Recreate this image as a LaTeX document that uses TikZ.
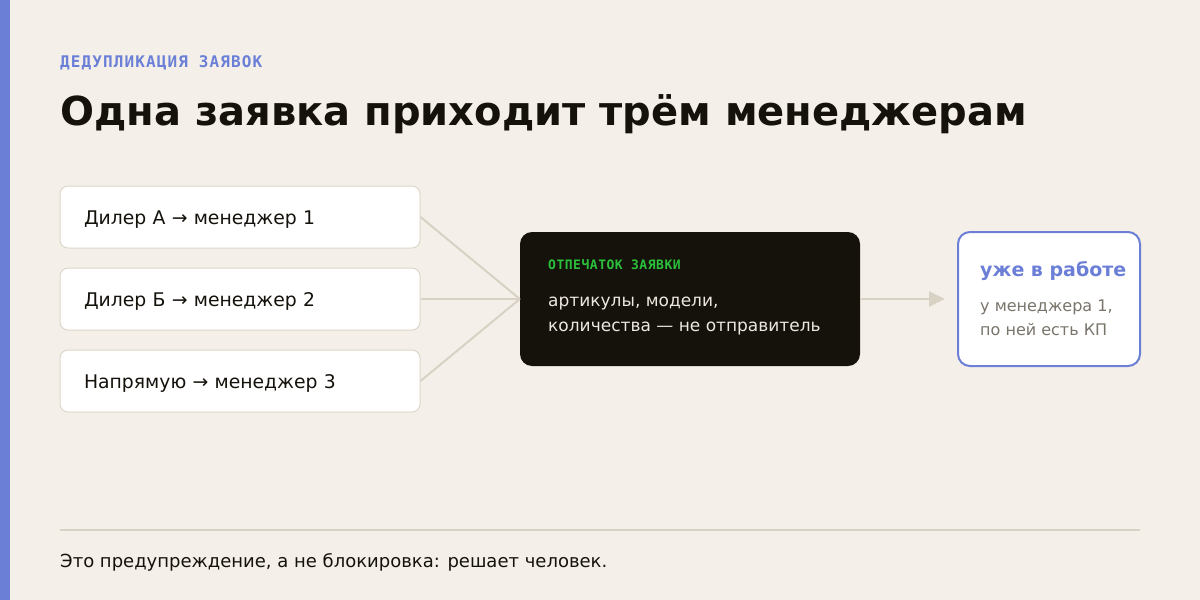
\documentclass[tikz,border=0pt]{standalone}
\usepackage{fontspec}
\setmainfont{DejaVu Sans}
\newfontfamily\tagfont{DejaVu Sans Mono}[LetterSpace=7]
\newfontfamily\smalltagfont{DejaVu Sans Mono}[LetterSpace=4]
\usetikzlibrary{arrows.meta,positioning}
\definecolor{paper}{HTML}{F4F0E9}
\definecolor{accent}{HTML}{6B7FD7}
\definecolor{ink}{HTML}{15120C}
\definecolor{rule}{HTML}{D8D2C4}
\definecolor{edge}{HTML}{DDD7CA}
\definecolor{signal}{HTML}{2BC03A}
\definecolor{pale}{HTML}{EDE8DF}
\definecolor{muted}{HTML}{7A756B}
\tikzset{
	srcbox/.style={draw=edge, line width=1pt, fill=white, rounded corners=8pt, minimum height=62pt, text width=312pt, inner xsep=24pt, align=left, text height=14pt, text depth=0pt, font=\fontsize{18.8}{22}\selectfont, text=ink},
	link/.style={draw=rule, line width=2pt},
	txt/.style={anchor=base west, inner sep=0pt}
}
\begin{document}
\begin{tikzpicture}[x=1pt, y=-1pt]
	\useasboundingbox (0,0) rectangle (1200,600);
	\fill[paper] (0,0) rectangle (1200,600);
	\fill[accent] (0,0) rectangle (10,600);
	\node[txt, text=accent, font=\tagfont\bfseries\fontsize{16}{20}\selectfont] (tag) at (60,67) {ДЕДУПЛИКАЦИЯ ЗАЯВОК};
	\node[txt, text=ink, font=\bfseries\fontsize{40}{48}\selectfont] (title) at (60,125) {Одна заявка приходит трём менеджерам};
	\node[srcbox] (srcA) at (240,217) {Дилер А → менеджер 1};
	\node[srcbox] (srcB) at (240,299) {Дилер Б → менеджер 2};
	\node[srcbox] (srcC) at (240,381) {Напрямую → менеджер 3};
	\node[fill=ink, rounded corners=12pt, minimum width=340pt, minimum height=134pt, inner sep=0pt] (print) at (690,299) {};
	\node[txt, text=signal, font=\smalltagfont\bfseries\fontsize{13}{16}\selectfont] (printtag) at (548,269) {ОТПЕЧАТОК ЗАЯВКИ};
	\node[txt, text=pale, font=\fontsize{17}{25}\selectfont, align=left] (printtxt) at (548,331) {артикулы, модели,\\количества — не отправитель};
	\node[draw=accent, line width=2pt, fill=white, rounded corners=12pt, minimum width=182pt, minimum height=134pt, inner sep=0pt] (busy) at (1049,299) {};
	\node[txt, text=accent, font=\bfseries\fontsize{19}{22}\selectfont] (busyhead) at (980,276) {уже в работе};
	\node[txt, text=muted, font=\fontsize{16}{24}\selectfont, align=left] (busytxt) at (980,335) {у менеджера 1,\\по ней есть КП};
	\foreach \s in {srcA,srcB,srcC}
		\draw[link] (\s.east) -- (print.west);
	\draw[link, -{Triangle[length=16pt,width=15pt]}, rule, shorten >=12pt] (print.east) -- (busy.west);
	\coordinate (ruleL) at (60,530);
	\coordinate (ruleR) at (1140,530);
	\draw[link] (ruleL) -- (ruleR);
	\node[txt, text=ink, font=\fontsize{18}{20}\selectfont] (note) at (60,567) {Это предупреждение, а не блокировка: решает человек.};
\end{tikzpicture}
\end{document}
